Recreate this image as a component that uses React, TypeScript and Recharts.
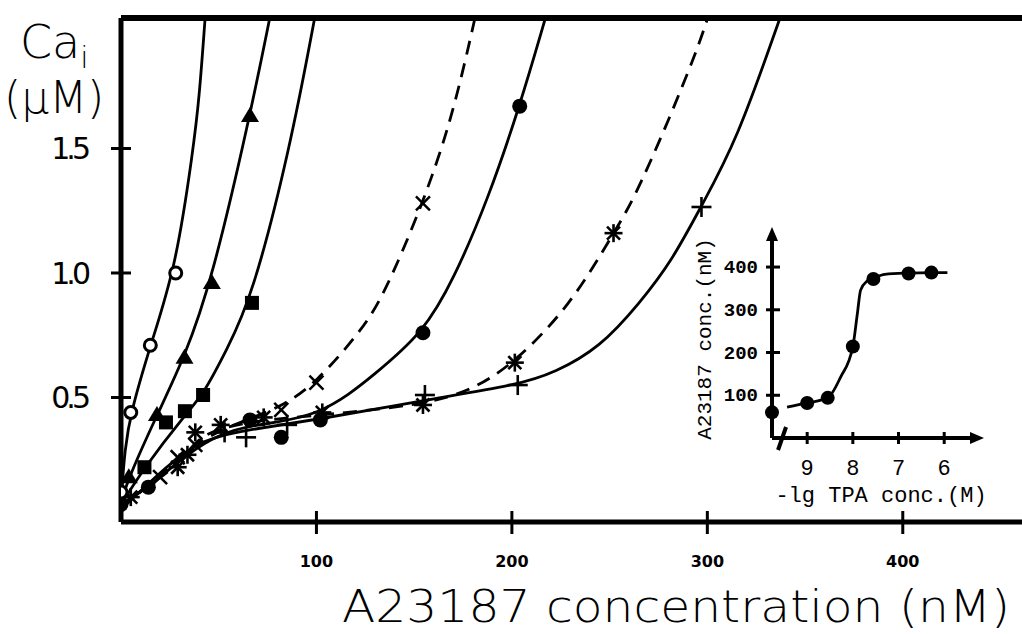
import { ComposedChart, Line, Scatter, XAxis, YAxis, ReferenceLine, ReferenceDot } from "recharts"

// main panel: Ca_i (uM) against A23187 (nM), one curve per TPA pre-treatment
const X_MAX = 461
const Y_MAX = 2.024
const xTicks = [100, 200, 300, 400]
const yTicks = [0.5, 1.0, 1.5]

const openCirclePts = [
  { x: 0, y: 0.12 }, { x: 5, y: 0.44 }, { x: 15, y: 0.71 }, { x: 28, y: 1.0 },
]
const openCircleCurve = [
  { x: 0, y: 0.08 }, { x: 2, y: 0.3 }, { x: 5, y: 0.44 }, { x: 15, y: 0.71 }, { x: 28, y: 1.02 },
  { x: 37, y: 1.5 }, { x: 40, y: 1.7 }, { x: 43, y: 2.02 },
]

const trianglePts = [
  { x: 4, y: 0.18 }, { x: 18.4, y: 0.43 }, { x: 32.5, y: 0.66 }, { x: 46.5, y: 0.96 }, { x: 66, y: 1.63 },
]
const triangleCurve = [
  { x: 0, y: 0.08 }, { x: 4, y: 0.18 }, { x: 18.4, y: 0.43 }, { x: 32.5, y: 0.66 },
  { x: 46.5, y: 0.97 }, { x: 66, y: 1.63 }, { x: 76, y: 2.02 },
]

const squarePts = [
  { x: 12, y: 0.22 }, { x: 23, y: 0.4 }, { x: 32.7, y: 0.445 }, { x: 42, y: 0.51 }, { x: 67, y: 0.88 },
]
const squareCurve = [
  { x: 0, y: 0.07 }, { x: 12, y: 0.22 }, { x: 32.7, y: 0.43 }, { x: 42, y: 0.51 },
  { x: 54, y: 0.69 }, { x: 67, y: 0.9 }, { x: 86.5, y: 1.5 }, { x: 99, y: 2.02 },
]

const crossPts = [
  { x: 20, y: 0.18 }, { x: 29, y: 0.26 }, { x: 38, y: 0.31 }, { x: 82, y: 0.45 }, { x: 100, y: 0.56 }, { x: 154.5, y: 1.28 },
]
const crossCurve = [
  { x: 0, y: 0.06 }, { x: 20, y: 0.18 }, { x: 38, y: 0.32 }, { x: 60, y: 0.4 }, { x: 82, y: 0.46 },
  { x: 100, y: 0.56 }, { x: 122, y: 0.76 }, { x: 134, y: 0.9 }, { x: 154.5, y: 1.28 },
  { x: 168, y: 1.59 }, { x: 177, y: 1.88 }, { x: 181, y: 2.02 },
]

const dotPts = [
  { x: 0, y: 0.07 }, { x: 14, y: 0.14 }, { x: 66, y: 0.41 }, { x: 82, y: 0.34 },
  { x: 102, y: 0.41 }, { x: 154.5, y: 0.76 }, { x: 204, y: 1.67 },
]
const dotCurve = [
  { x: 0, y: 0.07 }, { x: 14, y: 0.14 }, { x: 35, y: 0.28 }, { x: 50, y: 0.35 }, { x: 66, y: 0.39 },
  { x: 102, y: 0.42 }, { x: 131, y: 0.6 }, { x: 154.5, y: 0.76 }, { x: 170, y: 0.97 },
  { x: 188, y: 1.3 }, { x: 204, y: 1.67 }, { x: 217, y: 2.02 },
]

const starPts = [
  { x: 5, y: 0.1 }, { x: 29, y: 0.22 }, { x: 34, y: 0.27 }, { x: 38, y: 0.36 }, { x: 51, y: 0.39 },
  { x: 73, y: 0.42 }, { x: 103, y: 0.44 }, { x: 154.5, y: 0.47 }, { x: 201.5, y: 0.64 }, { x: 252, y: 1.16 },
]
const starCurve = [
  { x: 0, y: 0.05 }, { x: 5, y: 0.1 }, { x: 29, y: 0.22 }, { x: 38, y: 0.33 }, { x: 51, y: 0.38 },
  { x: 73, y: 0.41 }, { x: 103, y: 0.43 }, { x: 154.5, y: 0.47 }, { x: 180, y: 0.53 },
  { x: 201.5, y: 0.64 }, { x: 230, y: 0.87 }, { x: 252, y: 1.16 }, { x: 262, y: 1.29 },
  { x: 279, y: 1.59 }, { x: 295, y: 1.9 }, { x: 300, y: 2.02 },
]

const plusPts = [
  { x: 53, y: 0.36 }, { x: 64, y: 0.34 }, { x: 85, y: 0.39 }, { x: 155.5, y: 0.51 }, { x: 203, y: 0.55 }, { x: 297, y: 1.265 },
]
const plusCurve = [
  { x: 0, y: 0.05 }, { x: 20, y: 0.2 }, { x: 40, y: 0.33 }, { x: 64, y: 0.37 }, { x: 100, y: 0.41 },
  { x: 155.5, y: 0.49 }, { x: 203, y: 0.55 }, { x: 222, y: 0.6 }, { x: 245, y: 0.7 },
  { x: 265.5, y: 0.88 }, { x: 282, y: 1.05 }, { x: 297, y: 1.27 }, { x: 315, y: 1.53 }, { x: 337, y: 2.02 },
]

// inset: A23187 threshold (nM) against -lg TPA conc. (M)
const INSET_X_MIN = 5.26
const INSET_X_MAX = 9.77
const INSET_Y_MAX = 475
const insetXTicks = [9, 8, 7, 6]
const insetYTicks = [100, 200, 300, 400]
const controlPt = [{ x: INSET_X_MAX, y: 60 }]
const tpaPts = [
  { x: 9.0, y: 82 }, { x: 8.55, y: 94 }, { x: 8.0, y: 214 }, { x: 7.55, y: 372 }, { x: 6.78, y: 385 }, { x: 6.28, y: 387 },
]
const tpaCurve = [
  { x: 9.44, y: 72 }, { x: 9.0, y: 82 }, { x: 8.55, y: 94 }, { x: 8.27, y: 142 }, { x: 8.0, y: 214 },
  { x: 7.9, y: 292 }, { x: 7.83, y: 346 }, { x: 7.68, y: 368 }, { x: 7.55, y: 374 }, { x: 7.3, y: 383 },
  { x: 6.78, y: 386 }, { x: 6.28, y: 387 }, { x: 5.93, y: 387 },
]

const K = "#000"

const OpenCircle = (p: any) => <circle cx={p.cx} cy={p.cy} r={6} fill="#fff" stroke={K} strokeWidth={3} />
const Triangle = (p: any) => (
  <path d={`M${p.cx},${p.cy - 9} L${p.cx + 9},${p.cy + 6} L${p.cx - 9},${p.cy + 6} Z`} fill={K} />
)
const Square = (p: any) => <rect x={p.cx - 7} y={p.cy - 7} width={14} height={14} fill={K} />
const Dot = (p: any) => <circle cx={p.cx} cy={p.cy} r={7.5} fill={K} />
const Cross = (p: any) => (
  <g stroke={K} strokeWidth={2.5}>
    <line x1={p.cx - 7} y1={p.cy - 7} x2={p.cx + 7} y2={p.cy + 7} />
    <line x1={p.cx - 7} y1={p.cy + 7} x2={p.cx + 7} y2={p.cy - 7} />
  </g>
)
const Star = (p: any) => (
  <g stroke={K} strokeWidth={2.6}>
    <line x1={p.cx} y1={p.cy - 9} x2={p.cx} y2={p.cy + 9} />
    <line x1={p.cx - 9} y1={p.cy} x2={p.cx + 9} y2={p.cy} />
    <line x1={p.cx - 6.5} y1={p.cy - 6.5} x2={p.cx + 6.5} y2={p.cy + 6.5} />
    <line x1={p.cx - 6.5} y1={p.cy + 6.5} x2={p.cx + 6.5} y2={p.cy - 6.5} />
  </g>
)
const Plus = (p: any) => (
  <g stroke={K} strokeWidth={2.6}>
    <line x1={p.cx} y1={p.cy - 10} x2={p.cx} y2={p.cy + 10} />
    <line x1={p.cx - 10} y1={p.cy} x2={p.cx + 10} y2={p.cy} />
  </g>
)
const InsetDot = (p: any) => <circle cx={p.cx} cy={p.cy} r={7} fill={K} />

const MainXTick = (p: any) => (
  <g>
    <line x1={p.x} x2={p.x} y1={p.y - 11} y2={p.y + 12} stroke={K} strokeWidth={3} />
    <text x={p.x} y={p.y + 45} textAnchor="middle" fontFamily="DejaVu Sans" fontWeight="bold" fontSize={16} fill={K}>
      {p.payload.value}
    </text>
  </g>
)
const MainYTick = (p: any) => (
  <g>
    <line x1={p.x - 10} x2={p.x + 10} y1={p.y} y2={p.y} stroke={K} strokeWidth={3} />
    <text x={p.x - 34} y={p.y + 11} textAnchor="end" fontFamily="DejaVu Sans" fontSize={30} letterSpacing={-4} fill={K}>
      {p.payload.value.toFixed(1)}
    </text>
  </g>
)
const InsetXTick = (p: any) => (
  <g>
    <line x1={p.x} x2={p.x} y1={p.y - 6} y2={p.y + 6} stroke={K} strokeWidth={3} />
    <text x={p.x} y={p.y + 37} textAnchor="middle" fontFamily="Liberation Mono" fontSize={22} fill={K}>
      {p.payload.value}
    </text>
  </g>
)
const InsetYTick = (p: any) => (
  <g>
    <line x1={p.x - 6} x2={p.x + 8} y1={p.y} y2={p.y} stroke={K} strokeWidth={3} />
    <text x={p.x - 14} y={p.y + 6} textAnchor="end" fontFamily="Liberation Mono" fontWeight="bold" fontSize={19} fill={K}>
      {p.payload.value}
    </text>
  </g>
)
const ArrowUp = (p: any) => <path d={`M${p.cx},${p.cy - 8} L${p.cx + 6},${p.cy + 6} L${p.cx - 6},${p.cy + 6} Z`} fill={K} />
const ArrowRight = (p: any) => <path d={`M${p.cx + 6},${p.cy} L${p.cx - 8},${p.cy - 6} L${p.cx - 8},${p.cy + 6} Z`} fill={K} />
const Slash = (p: any) => <line x1={p.cx - 4} y1={p.cy + 12} x2={p.cx + 4} y2={p.cy - 11} stroke={K} strokeWidth={4} />

const solid = { stroke: K, strokeWidth: 2.8, dot: false, type: "basis" as const, isAnimationActive: false }
const dashed = { ...solid, strokeDasharray: "14 9" }

export default function App() {
  return (
    <div style={{ position: "absolute", left: 0, top: 0, width: 1022, height: 634, background: "#fff" }}>
      <ComposedChart width={1022} height={634} margin={{ top: 18, right: 0, bottom: 0, left: 0 }}>
        <XAxis
          type="number"
          dataKey="x"
          domain={[0, X_MAX]}
          ticks={xTicks}
          height={112}
          tickSize={0}
          tickMargin={0}
          tick={<MainXTick />}
          axisLine={{ stroke: K, strokeWidth: 5 }}
          allowDataOverflow
        />
        <YAxis
          type="number"
          dataKey="y"
          domain={[0, Y_MAX]}
          ticks={yTicks}
          width={121}
          tickSize={0}
          tickMargin={0}
          tick={<MainYTick />}
          axisLine={{ stroke: K, strokeWidth: 5 }}
          allowDataOverflow
        />
        <ReferenceLine y={Y_MAX} stroke={K} strokeWidth={6} />
        <Line data={openCircleCurve} dataKey="y" {...solid} />
        <Line data={triangleCurve} dataKey="y" {...solid} />
        <Line data={squareCurve} dataKey="y" {...solid} />
        <Line data={crossCurve} dataKey="y" {...dashed} />
        <Line data={dotCurve} dataKey="y" {...solid} />
        <Line data={starCurve} dataKey="y" {...dashed} />
        <Line data={plusCurve} dataKey="y" {...solid} />
        <Scatter data={crossPts} dataKey="y" shape={Cross} isAnimationActive={false} />
        <Scatter data={starPts} dataKey="y" shape={Star} isAnimationActive={false} />
        <Scatter data={plusPts} dataKey="y" shape={Plus} isAnimationActive={false} />
        <Scatter data={dotPts} dataKey="y" shape={Dot} isAnimationActive={false} />
        <Scatter data={squarePts} dataKey="y" shape={Square} isAnimationActive={false} />
        <Scatter data={trianglePts} dataKey="y" shape={Triangle} isAnimationActive={false} />
        <Scatter data={openCirclePts} dataKey="y" shape={OpenCircle} isAnimationActive={false} />
      </ComposedChart>

      <div style={{ position: "absolute", left: 690, top: 220 }}>
        <ComposedChart width={310} height={290} margin={{ top: 15, right: 22, bottom: 0, left: 0 }}>
          <XAxis
            type="number"
            dataKey="x"
            domain={[INSET_X_MIN, INSET_X_MAX]}
            reversed
            ticks={insetXTicks}
            height={72}
            tickSize={0}
            tickMargin={0}
            tick={<InsetXTick />}
            axisLine={{ stroke: K, strokeWidth: 4 }}
          />
          <YAxis
            type="number"
            dataKey="y"
            domain={[0, INSET_Y_MAX]}
            ticks={insetYTicks}
            width={82}
            tickSize={0}
            tickMargin={0}
            tick={<InsetYTick />}
            axisLine={{ stroke: K, strokeWidth: 4 }}
          />
          <ReferenceDot x={INSET_X_MAX} y={INSET_Y_MAX} shape={ArrowUp} ifOverflow="visible" />
          <ReferenceDot x={INSET_X_MIN} y={0} shape={ArrowRight} ifOverflow="visible" />
          <ReferenceDot x={9.55} y={0} shape={Slash} ifOverflow="visible" />
          <Line data={tpaCurve} dataKey="y" {...solid} type="monotone" />
          <Scatter data={tpaPts} dataKey="y" shape={InsetDot} isAnimationActive={false} />
          <Scatter data={controlPt} dataKey="y" shape={InsetDot} isAnimationActive={false} />
        </ComposedChart>
      </div>

      <svg width={1022} height={634} style={{ position: "absolute", left: 0, top: 0, pointerEvents: "none" }}>
        <text x={20} y={58} fontFamily="DejaVu Sans" fontWeight={200} fontSize={46} fill={K}>
          Ca<tspan dy={10} fontSize={30}>i</tspan>
        </text>
        <text x={4} y={113} fontFamily="DejaVu Sans" fontWeight={200} fontSize={44} fill={K}>
          (μM)
        </text>
        <text
          x={342}
          y={622}
          fontFamily="DejaVu Sans"
          fontWeight={200}
          fontSize={45}
          textLength={668}
          lengthAdjust="spacingAndGlyphs"
          fill={K}
        >
          A23187 concentration (nM)
        </text>
        <text
          transform="translate(711,339) rotate(-90)"
          textAnchor="middle"
          fontFamily="Liberation Mono"
          fontSize={21}
          fill={K}
        >
          A23187 conc.(nM)
        </text>
        <text x={881} y={502} textAnchor="middle" fontFamily="Liberation Mono" fontSize={22} fill={K}>
          -lg TPA conc.(M)
        </text>
      </svg>
    </div>
  )
}
